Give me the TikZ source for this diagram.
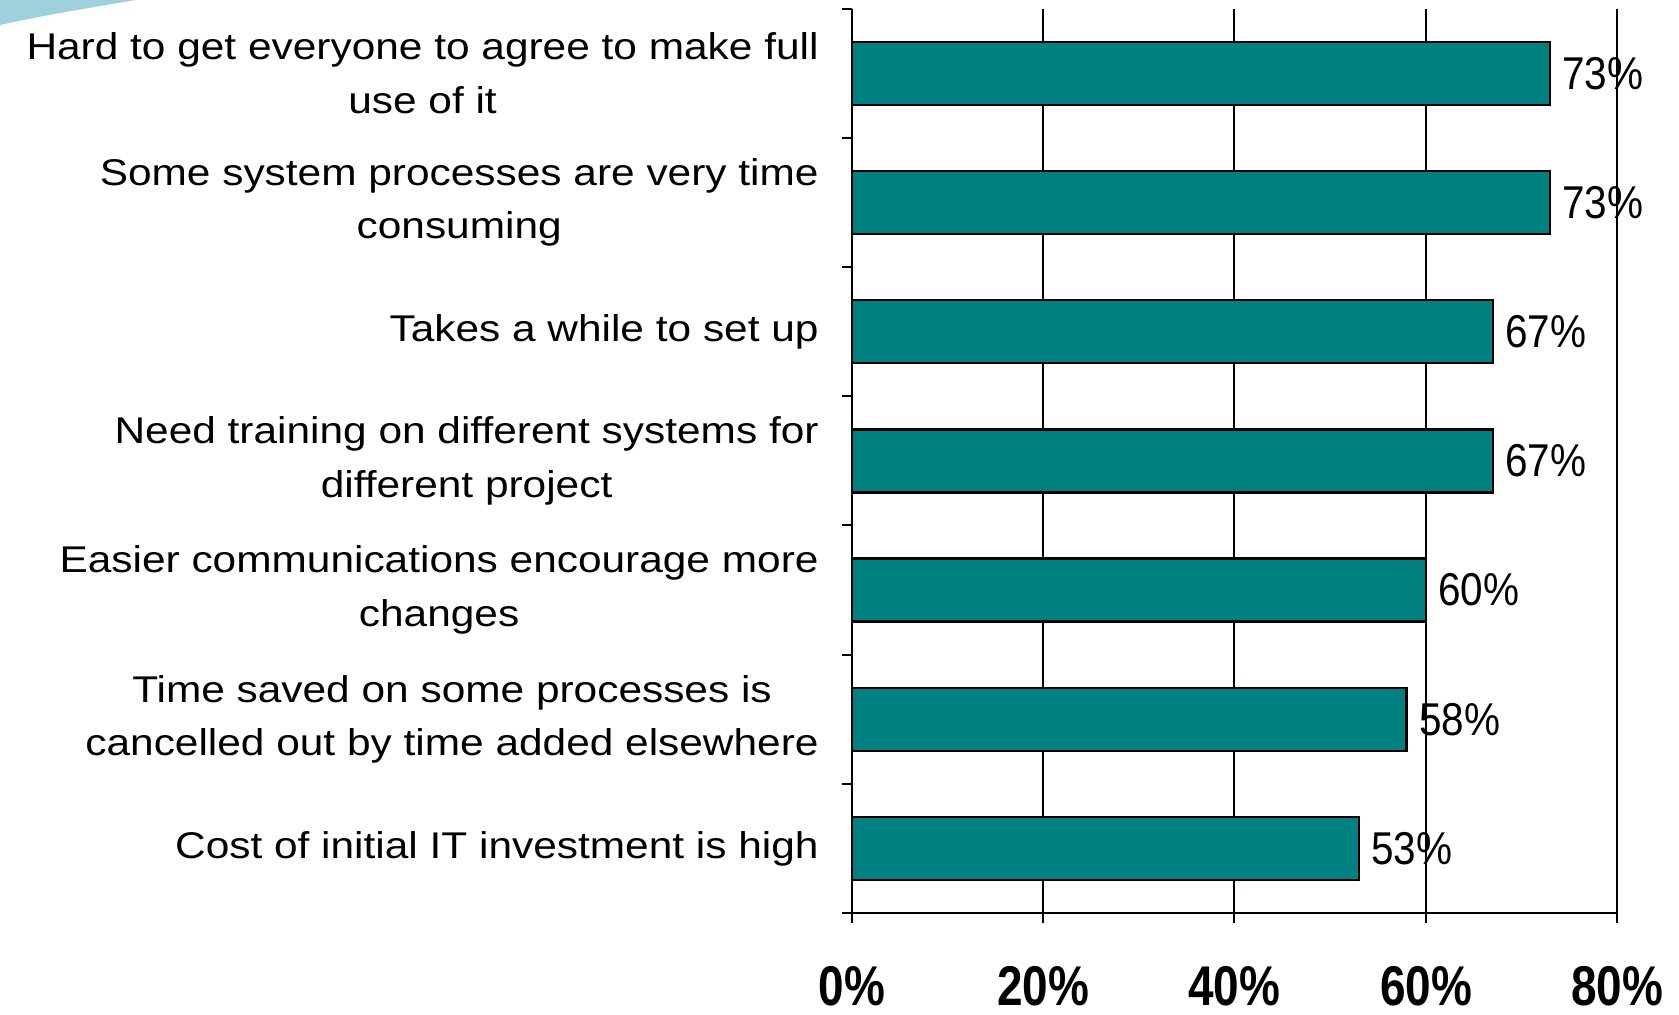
\documentclass[tikz,border=0pt]{standalone}
\usepackage{fontspec}
\setmainfont{Liberation Sans}
\newfontfamily\widesans[FakeStretch=1.14]{Liberation Sans}
\newfontfamily\narrowsans[FakeStretch=0.88]{Liberation Sans}
\newfontfamily\axissans[FakeStretch=0.82]{Liberation Sans}
\usetikzlibrary{positioning}

\definecolor{barteal}{RGB}{0,128,128}
\definecolor{swooshblue}{RGB}{158,208,221}

% one percent of the value axis
\newcommand{\pc}{4.78125pt}

\tikzset{
  bar/.style={draw, fill=barteal, line width=1.2pt, anchor=west,
    minimum height=31.5pt, inner sep=0pt, outer sep=0pt},
  cat/.style={font=\widesans\fontsize{18.6pt}{26.8pt}\selectfont, align=center,
    inner sep=0pt},
  val/.style={font=\narrowsans\fontsize{23pt}{26pt}\selectfont, inner sep=0pt},
  ticklabel/.style={font=\axissans\bfseries\fontsize{28pt}{30pt}\selectfont,
    inner sep=0pt},
  grid/.style={line width=1pt}
}

\begin{document}
\begin{tikzpicture}[x=0.5pt, y=-0.5pt]
    \useasboundingbox (0,0) rectangle (1679,1014);

    % corner swoosh
    \fill [swooshblue] (0,0) -- (136,0) .. controls (88,8) and (40,16) .. (0,25) -- cycle;

    % grid and axes
    \draw [grid] (1043,8.6) -- (1043,923)
                 (1234,8.6) -- (1234,923)
                 (1426,8.6) -- (1426,923)
                 (1617,8.6) -- (1617,923);
    \draw [grid] (852,8.6) -- (852,923);
    \draw [grid] (842,913) -- (1617,913);
    \draw [grid] (842,8.6) -- ++(10,0)
                 (842,137.8) -- ++(10,0)
                 (842,267) -- ++(10,0)
                 (842,396.2) -- ++(10,0)
                 (842,525.4) -- ++(10,0)
                 (842,654.6) -- ++(10,0)
                 (842,783.8) -- ++(10,0);

    % bars
    \node (b1) [bar, minimum width=73*\pc] at (852,73.2) {};
    \node (b2) [bar, minimum width=73*\pc] at (852,202.4) {};
    \node (b3) [bar, minimum width=67*\pc] at (852,331.6) {};
    \node (b4) [bar, minimum width=67*\pc] at (852,460.8) {};
    \node (b5) [bar, minimum width=60*\pc] at (852,590) {};
    \node (b6) [bar, minimum width=58*\pc] at (852,719.2) {};
    \node (b7) [bar, minimum width=53*\pc] at (852,848.4) {};

    % values
    \node (v1) [val, right = 6pt of b1] {73\%};
    \node (v2) [val, right = 6pt of b2] {73\%};
    \node (v3) [val, right = 6pt of b3] {67\%};
    \node (v4) [val, right = 6pt of b4] {67\%};
    \node (v5) [val, right = 6pt of b5] {60\%};
    \node (v6) [val, right = 6pt of b6] {58\%};
    \node (v7) [val, right = 6pt of b7] {53\%};

    % categories
    \node (c1) [cat, left = 16.5pt of b1] {Hard to get everyone to agree to make full\\use of it};
    \node (c2) [cat, left = 16.5pt of b2] {Some system processes are very time\\consuming};
    \node (c3) [cat, left = 16.5pt of b3] {Takes a while to set up};
    \node (c4) [cat, left = 16.5pt of b4] {Need training on different systems for\\different project};
    \node (c5) [cat, left = 16.5pt of b5] {Easier communications encourage more\\changes};
    \node (c6) [cat, left = 16.5pt of b6] {Time saved on some processes is\\cancelled out by time added elsewhere};
    \node (c7) [cat, left = 16.5pt of b7] {Cost of initial IT investment is high};

    % axis labels
    \node (t0) [ticklabel] at (852,986) {0\%};
    \node (t20) [ticklabel] at (1043,986) {20\%};
    \node (t40) [ticklabel] at (1234,986) {40\%};
    \node (t60) [ticklabel] at (1426,986) {60\%};
    \node (t80) [ticklabel] at (1617,986) {80\%};
\end{tikzpicture}
\end{document}
